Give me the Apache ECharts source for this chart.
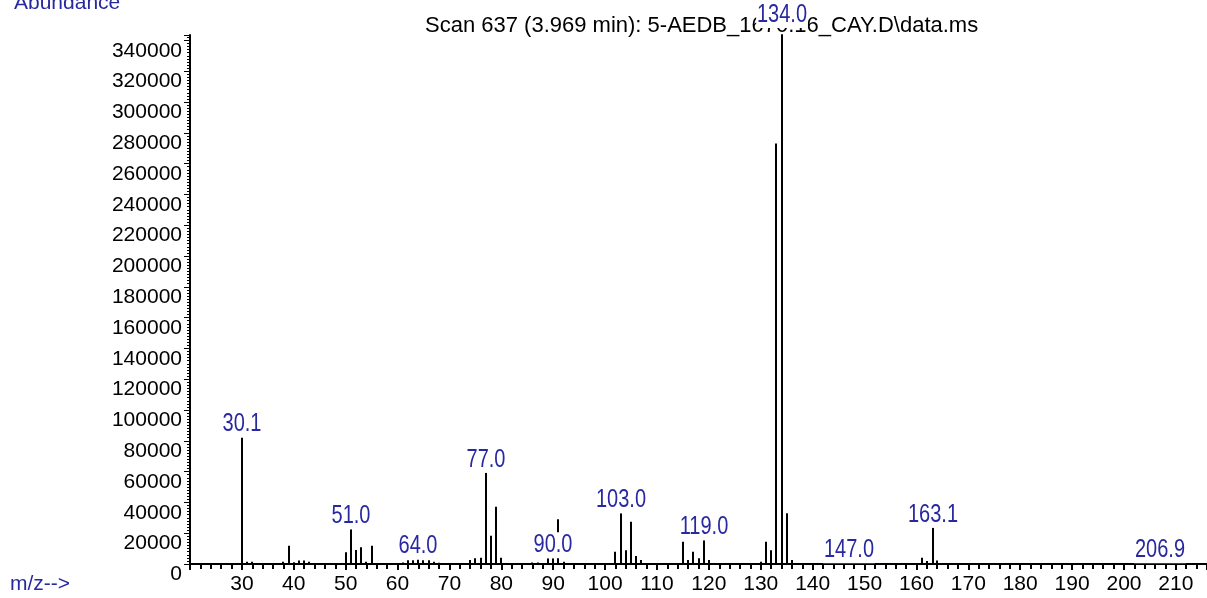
<!DOCTYPE html>
<html>
<head>
<meta charset="utf-8">
<title>Scan 637</title>
<script src="https://cdn.jsdelivr.net/npm/echarts@6/dist/echarts.min.js"></script>
<style>
    html, body { margin: 0; padding: 0; background: #fff; }
    #main { width: 1207px; height: 598px; }
</style>
</head>
<body>
<div id="main"></div>
<script>
    // m/z of each stick and its abundance
    var mzValues = [30.1, 31, 32, 38, 39, 40, 41, 42, 43,
        50, 51, 52, 53, 54, 55,
        61, 62, 63, 64, 65, 66, 67, 68,
        74, 75, 76, 77, 78, 79, 80,
        86, 87, 89, 90, 91, 92,
        102, 103, 104, 105, 106, 107,
        115, 116, 117, 118, 119, 120,
        130, 131, 132, 133, 134, 135, 136,
        147, 161, 162, 163.1, 164, 206.9];
    var abundances = [82200, 1500, 1500, 1500, 11900, 1200, 2200, 2200, 1500,
        7600, 22500, 9100, 10800, 1500, 11900,
        1000, 2500, 2500, 3000, 2500, 2500, 1500, 800,
        2600, 3700, 4100, 59300, 18300, 37200, 4100,
        1000, 1000, 3700, 3700, 29000, 1500,
        7900, 32900, 9000, 27500, 5200, 2600,
        14500, 2600, 7900, 3700, 15500, 2600,
        1500, 14500, 9000, 273000, 344000, 32900, 2600,
        500, 4100, 2000, 23600, 2200, 500];
    var labeledMz = [30.1, 51.0, 64.0, 77.0, 90.0, 103.0, 119.0, 134.0, 147.0, 163.1, 206.9];

    var xMin = 20, xMax = 216, xStep = 10;
    var yMin = 0, yMax = 343500, yStep = 20000;

    var sansFont = '"Liberation Sans", Arial, sans-serif';
    var blue = '#2828a0';

    var sticks = mzValues.map(function (m, i) { return [m, abundances[i]]; });
    var peakLabels = labeledMz.map(function (m) {
        return [m, abundances[mzValues.indexOf(m)]];
    });

    var chart = echarts.init(document.getElementById('main'));
    chart.setOption({
        animation: false,
        backgroundColor: '#fff',
        title: {
            text: 'Scan 637 (3.969 min): 5-AEDB_1670.16_CAY.D\\data.ms',
            left: 425,
            top: 15,
            padding: 0,
            z: 0,
            textStyle: { fontFamily: sansFont, fontSize: 22, fontWeight: 'normal', color: '#000' }
        },
        graphic: [
            { type: 'text', left: 14, top: -7, style: { text: 'Abundance', fill: blue, font: '21px ' + sansFont } },
            { type: 'text', left: 10, top: 574, style: { text: 'm/z-->', fill: blue, font: '21px ' + sansFont } }
        ],
        grid: { left: 190, right: 0, top: 35, bottom: 34 },
        xAxis: {
            type: 'value',
            min: xMin,
            max: xMax,
            interval: xStep,
            axisLine: { lineStyle: { color: '#000', width: 2 } },
            axisTick: { length: 6, lineStyle: { color: '#000', width: 2 } },
            minorTick: { show: true, splitNumber: 5, length: 5, lineStyle: { color: '#000', width: 2 } },
            splitLine: { show: false },
            axisLabel: {
                showMinLabel: false, showMaxLabel: false,
                margin: 10, color: '#000', fontFamily: sansFont, fontSize: 21
            }
        },
        yAxis: {
            type: 'value',
            min: yMin,
            max: yMax,
            interval: yStep,
            axisLine: { show: true, lineStyle: { color: '#000', width: 2 } },
            axisTick: { show: true, length: 6, lineStyle: { color: '#000', width: 1 } },
            minorTick: { show: true, splitNumber: 10, length: 3, lineStyle: { color: '#000', width: 1 } },
            splitLine: { show: false },
            axisLabel: {
                showMaxLabel: false,
                formatter: function (v) { return String(v); },
                margin: 8, verticalAlign: 'top', lineHeight: 21,
                color: '#000', fontFamily: sansFont, fontSize: 21
            }
        },
        series: [
            {
                type: 'custom',
                data: sticks,
                clip: false,
                z: 3,
                renderItem: function (params, api) {
                    var p0 = api.coord([api.value(0), 0]);
                    var p1 = api.coord([api.value(0), api.value(1)]);
                    var x = Math.round(p0[0]);
                    return {
                        type: 'line',
                        shape: { x1: x, y1: p0[1], x2: x, y2: p1[1] },
                        style: { stroke: '#000', lineWidth: 2 }
                    };
                }
            },
            {
                // peak labels, narrowed like the instrument font, white box over sticks
                type: 'custom',
                data: peakLabels,
                clip: false,
                z: 10,
                renderItem: function (params, api) {
                    var p = api.coord([api.value(0), api.value(1)]);
                    // the base peak's label sits a bit higher, above the axis top
                    var y = p[1] < 40 ? 28 : p[1];
                    return {
                        type: 'text',
                        x: Math.round(p[0]),
                        y: y,
                        scaleX: 0.8,
                        style: {
                            text: api.value(0).toFixed(1),
                            fill: blue,
                            font: '25px ' + sansFont,
                            align: 'center',
                            verticalAlign: 'bottom',
                            lineHeight: 26,
                            backgroundColor: '#fff',
                            padding: [0, 1]
                        }
                    };
                }
            }
        ]
    });
</script>
</body>
</html>
